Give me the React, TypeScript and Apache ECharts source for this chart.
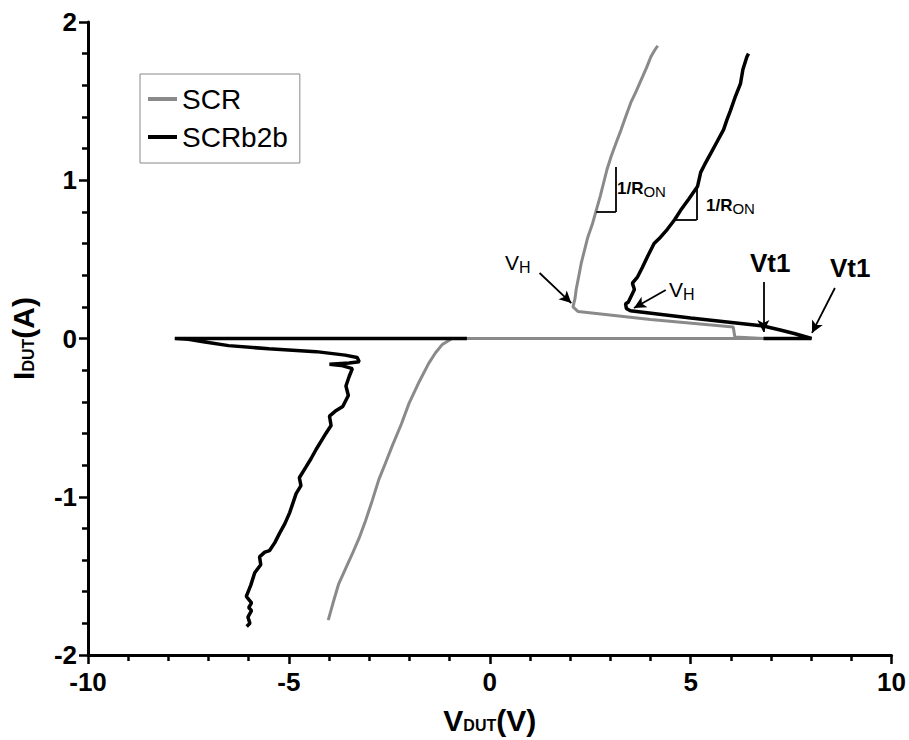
import React, { useEffect, useRef } from "react";
import * as echarts from "echarts";

// X ticks / Y ticks
const xTicks = [-10, -5, 0, 5, 10];
const yTicks = [-2, -1, 0, 1, 2];

// SCR (gray) trace: voltage (V) and current (A)
const scrV = [-4.02, -3.9, -3.76, -3.6, -3.42, -3.25, -3.09, -2.92, -2.76, -2.6, -2.43, -2.2, -2.01, -1.75, -1.52, -1.35, -1.19, -0.94, 6.81, 6.1, 6.06, 4.0, 2.2, 2.07, 2.12, 2.15, 2.22, 2.28, 2.36, 2.44, 2.55, 2.65, 2.75, 2.85, 2.92, 3.02, 3.15, 3.27, 3.38, 3.51, 3.64, 3.76, 3.9, 4.01, 4.1, 4.18];
const scrI = [-1.78, -1.67, -1.55, -1.46, -1.36, -1.26, -1.15, -1.02, -0.89, -0.79, -0.68, -0.54, -0.41, -0.27, -0.157, -0.09, -0.04, 0, 0, 0.01, 0.073, 0.12, 0.17, 0.2, 0.25, 0.31, 0.4, 0.48, 0.56, 0.64, 0.72, 0.81, 0.9, 1.0, 1.07, 1.15, 1.24, 1.32, 1.4, 1.49, 1.56, 1.63, 1.71, 1.78, 1.82, 1.85];

// SCRb2b (black) trace; null marks a break in the trace
const b2bV = [-0.57, -7.84, -7.5, -7.13, -6.5, -5.5, -4.32, -3.6, -3.3, -3.25, -3.5, -3.99, -3.7, -3.42, -3.5, -3.58, -3.52, -3.66, -3.85, -3.99, -3.95, -4.08, -4.2, -4.32, -4.45, -4.57, -4.74, -4.7, -4.82, -4.9, -4.98, -5.1, -5.23, -5.35, -5.48, -5.6, -5.73, -5.7, -5.85, -5.95, -6.06, -5.93, -6.0, -5.93, -6.02, -5.97, -6.05,
  null,
  6.81, 8.01, 7.6, 7.23, 6.81, 5.0, 3.5, 3.4, 3.38, 3.45, 3.6, 3.55, 3.68, 3.8, 3.93, 4.09, 4.25, 4.42, 4.6, 4.75, 4.95, 5.17, 5.25, 5.35, 5.5, 5.65, 5.82, 5.9, 5.99, 6.1, 6.24, 6.3, 6.4, 6.44];
const b2bI = [0, 0, -0.005, -0.02, -0.045, -0.065, -0.083, -0.105, -0.12, -0.147, -0.155, -0.163, -0.17, -0.19, -0.24, -0.3, -0.36, -0.43, -0.46, -0.49, -0.55, -0.6, -0.65, -0.7, -0.76, -0.81, -0.88, -0.93, -0.98, -1.04, -1.1, -1.17, -1.23, -1.29, -1.34, -1.35, -1.38, -1.43, -1.48, -1.56, -1.63, -1.67, -1.7, -1.72, -1.76, -1.8, -1.82,
  null,
  0, 0, 0.03, 0.054, 0.079, 0.13, 0.175, 0.19, 0.22, 0.23, 0.31, 0.35, 0.39, 0.45, 0.52, 0.6, 0.64, 0.69, 0.75, 0.81, 0.88, 0.96, 1.05, 1.1, 1.17, 1.24, 1.32, 1.38, 1.44, 1.52, 1.61, 1.7, 1.78, 1.8];

// Annotation arrows [x1, y1, x2, y2] in data units
const arrows = [
  [1.24, 0.414, 2.03, 0.224],
  [4.38, 0.306, 3.59, 0.193],
  [6.81, 0.357, 6.81, 0.041],
  [8.59, 0.319, 8.02, 0.035],
];
// Slope triangles (1/Ron) [xLeft, yBottom, xRight, yTop]
const slopeTris = [
  [2.65, 0.8, 3.14, 1.084],
  [4.63, 0.749, 5.15, 0.945],
];

const NARROW = "'Liberation Sans Narrow', 'Liberation Sans', Arial, sans-serif";
const SANS = "'Liberation Sans', Arial, sans-serif";

export default function App() {
  const ref = useRef<HTMLDivElement>(null);
  useEffect(() => {
    if (!ref.current) return;
    const chart = echarts.init(ref.current, undefined, { renderer: "svg" });
    const scrData = scrV.map((v, i) => [v, scrI[i]]);
    const b2bData = b2bV.map((v, i) => (v === null ? "-" : [v, b2bI[i]]));
    const markData: any[] = [];
    arrows.forEach((a) => {
      markData.push([
        { coord: [a[0], a[1]], symbol: "none" },
        { coord: [a[2], a[3]], symbol: "arrow" },
      ]);
    });
    slopeTris.forEach((t) => {
      markData.push([
        { coord: [t[0], t[1]], symbol: "none" },
        { coord: [t[2], t[1]], symbol: "none" },
      ]);
      markData.push([
        { coord: [t[2], t[1]], symbol: "none" },
        { coord: [t[2], t[3]], symbol: "none" },
      ]);
    });
    const axisLabel = { color: "#000", fontSize: 26, fontWeight: "bold", fontFamily: NARROW };
    const nameRich = {
      a: { fontSize: 30, fontWeight: "bold", fontFamily: NARROW, color: "#000", verticalAlign: "bottom" },
      b: { fontSize: 16, fontWeight: "bold", fontFamily: NARROW, color: "#000", verticalAlign: "bottom", padding: [0, 0, 2, 0] },
    };
    const annText = (x: number, y: number, text: string, rich: any) => ({
      type: "text",
      left: x,
      top: y,
      style: { text, rich, fill: "#000" },
    });
    const vhRich = {
      v: { fontSize: 21, fontFamily: SANS, color: "#000", verticalAlign: "bottom" },
      h: { fontSize: 16, fontFamily: SANS, color: "#000", verticalAlign: "bottom", padding: [0, 0, -2, 0] },
    };
    const ronRich = {
      r: { fontSize: 17, fontWeight: "bold", fontFamily: SANS, color: "#000", verticalAlign: "bottom" },
      o: { fontSize: 15, fontFamily: SANS, color: "#000", verticalAlign: "bottom", padding: [0, 0, -2, 0] },
    };
    const vtRich = {
      t: { fontSize: 26, fontWeight: "bold", fontFamily: NARROW, color: "#000" },
    };
    chart.setOption({
      animation: false,
      backgroundColor: "#fff",
      grid: { left: 84, right: 17, top: 22, bottom: 85, containLabel: false },
      legend: {
        left: 140,
        top: 74,
        orient: "vertical",
        padding: [11, 12, 12, 8],
        itemGap: 10,
        itemWidth: 29,
        itemHeight: 4,
        itemTextGap: 8,
        icon: "rect",
        borderColor: "#888",
        borderWidth: 1,
        textStyle: { fontSize: 28, fontFamily: NARROW, color: "#000" },
        data: ["SCR", "SCRb2b"],
      },
      xAxis: {
        type: "value",
        min: xTicks[0],
        max: xTicks[xTicks.length - 1],
        interval: 5,
        name: "{a|V}{b|DUT}{a|(V)}",
        nameLocation: "middle",
        nameGap: 50,
        nameTextStyle: { rich: nameRich },
        axisLine: { onZero: false, lineStyle: { color: "#000", width: 3 } },
        axisTick: { length: 9, lineStyle: { color: "#000", width: 2.5 } },
        minorTick: { show: true, splitNumber: 5, length: 6, lineStyle: { color: "#000", width: 2.5 } },
        splitLine: { show: false },
        axisLabel: { ...axisLabel, margin: 14 },
      },
      yAxis: {
        type: "value",
        min: yTicks[0],
        max: yTicks[yTicks.length - 1],
        interval: 1,
        name: "{a|I}{b|DUT}{a|(A)}",
        nameLocation: "middle",
        nameGap: 50,
        nameRotate: 90,
        nameTextStyle: { rich: nameRich },
        axisLine: { onZero: false, lineStyle: { color: "#000", width: 3 } },
        axisTick: { length: 9, lineStyle: { color: "#000", width: 2.5 } },
        minorTick: { show: true, splitNumber: 5, length: 6, lineStyle: { color: "#000", width: 2.5 } },
        splitLine: { show: false },
        axisLabel: { ...axisLabel, margin: 11 },
      },
      series: [
        {
          name: "SCR",
          type: "line",
          data: scrData,
          showSymbol: false,
          symbol: "none",
          color: "#8a8a8a",
          lineStyle: { color: "#8a8a8a", width: 3 },
        },
        {
          name: "SCRb2b",
          type: "line",
          data: b2bData,
          showSymbol: false,
          symbol: "none",
          connectNulls: false,
          color: "#000",
          lineStyle: { color: "#000", width: 3.5 },
          markLine: {
            silent: true,
            symbolSize: [9, 12],
            label: { show: false },
            lineStyle: { color: "#000", width: 1.8, type: "solid" },
            data: markData,
          },
        },
      ],
      graphic: [
        annText(505, 252, "{v|V}{h|H}", vhRich),
        annText(669, 279, "{v|V}{h|H}", vhRich),
        annText(617, 180, "{r|1/R}{o|ON}", ronRich),
        annText(706, 197, "{r|1/R}{o|ON}", ronRich),
        annText(750, 250, "{t|Vt1}", vtRich),
        annText(830, 255, "{t|Vt1}", vtRich),
      ],
    });
    return () => chart.dispose();
  }, []);
  return (
    <div
      ref={ref}
      style={{ position: "absolute", left: 0, top: 0, width: 909, height: 740 }}
    />
  );
}
